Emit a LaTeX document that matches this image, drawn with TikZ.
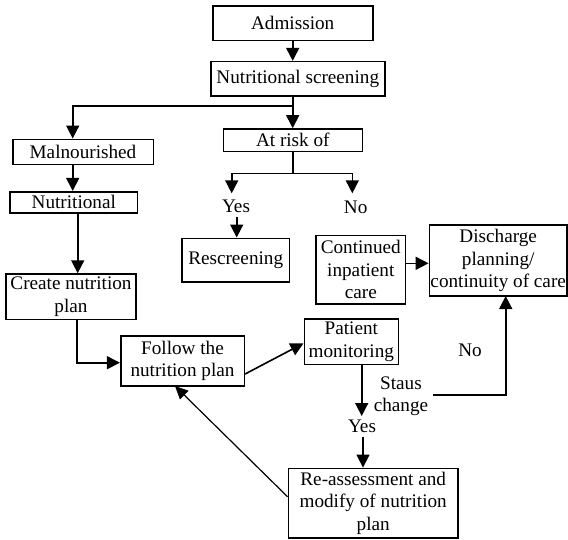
\documentclass[tikz,border=0pt]{standalone}
\usepackage{fontspec}
\setmainfont{Liberation Serif}
\usetikzlibrary{arrows.meta,calc}
\begin{document}
\begin{tikzpicture}[x=1pt,y=-1pt,
  font=\fontsize{19.2}{22.5}\selectfont,
  box/.style={draw,line width=1.6pt,inner sep=0pt,align=center},
  lbl/.style={inner sep=0pt,align=center},
  conn/.style={line width=1.6pt,-{Triangle[length=13pt,width=13pt]}},
  plain/.style={line width=1.6pt},
  diag/.style={line width=1.2pt,-{Triangle[length=13pt,width=12pt]}}]
\fill[white] (0,0) rectangle (568,539);
\useasboundingbox (0,0) rectangle (568,539);

% boxes
\node[box,minimum width=160pt,minimum height=34.7pt] (adm) at (292.7,23.3) {Admission};
\node[box,minimum width=174pt,minimum height=34.3pt] (scr) at (297.8,78.8) {Nutritional screening};
\node[box,minimum width=139pt,minimum height=22.7pt] (risk) at (292.8,140.3) {At risk of};
\node[box,minimum width=140.6pt,minimum height=25pt] (mal) at (83,151.8) {Malnourished};
\node[box,minimum width=127.7pt,minimum height=21pt] (nut) at (73.8,202.2) {Nutritional};
\node[box,minimum width=107.3pt,minimum height=43.4pt] (resc) at (235.7,260) {Rescreening};
\node[box,minimum width=130pt,minimum height=45.3pt] (create) at (71,296.7) {Create nutrition\\plan};
\node[box,minimum width=89.7pt,minimum height=68.5pt] (cont) at (360.8,269.8) {Continued\\inpatient\\care};
\node[box,minimum width=137.7pt,minimum height=71pt] (dis) at (498.2,260.5) {Discharge\\planning/\\continuity of care};
\node[box,minimum width=123.6pt,minimum height=50pt] (follow) at (182.5,361) {Follow the\\nutrition plan};
\node[box,minimum width=94pt,minimum height=45.5pt] (pat) at (351.3,341.8) {Patient\\monitoring};
\node[box,minimum width=169.7pt,minimum height=69.7pt] (reas) at (373.2,503.2) {Re-assessment and\\modify of nutrition\\plan};

% labels
\node[lbl] (yes1) at (236,206.7) {Yes};
\node[lbl] (no1) at (355.7,207) {No};
\node[lbl] (staus) at (401,396) {Staus\\change};
\node[lbl] (yes2) at (362,426.7) {Yes};
\node[lbl] (no2) at (470,350.7) {No};

% coordinates
\coordinate (j1) at (292.7,106);
\coordinate (jm) at (72.7,106);
\coordinate (j2) at (292.7,173.3);
\coordinate (jy) at (231.7,173.3);
\coordinate (jn) at (352.3,173.3);
\coordinate (ey) at (231.7,193.3);
\coordinate (en) at (352.3,193.3);
\coordinate (ft) at (175,386);
\coordinate (dsb) at (505.7,296);

% connectors
\draw[conn] (adm.south) -- (adm.south |- scr.north);
\draw[plain] (j1 |- scr.south) -- (j1);
\draw[conn] (j1) -- (jm) -- (jm |- mal.north);
\draw[conn] (j1) -- (j1 |- risk.north);
\draw[plain] (j2 |- risk.south) -- (j2);
\draw[plain] (jy) -- (jn);
\draw[conn] (jy) -- (ey);
\draw[conn] (jn) -- (en);
\draw[conn] (236.7,216.7) coordinate (ys) -- (ys |- resc.north);
\draw[conn] (jm |- mal.south) -- (jm |- nut.north);
\draw[conn] (77.7,212.7) coordinate (ns) -- (ns |- create.north);
\draw[conn] (cont.east |- 0,263.3) -- (dis.west |- 0,263.3);
\draw[conn] (76.7,319.3) coordinate (cs) -- (76.7,362.7) -- (follow.west |- 0,362.7);
\draw[conn] ($(follow.east)+(0,13)$) -- ($(pat.west)+(0,1.5)$);
\draw[conn] (361.7,364.5) coordinate (ps) -- (361.7,416);
\draw[conn] (363,436.7) coordinate (yb) -- (yb |- reas.north);
\draw[diag] ($(reas.west)+(0,-6.5)$) -- (ft);
\draw[conn] (433.3,395) -| (dsb);
\end{tikzpicture}
\end{document}
